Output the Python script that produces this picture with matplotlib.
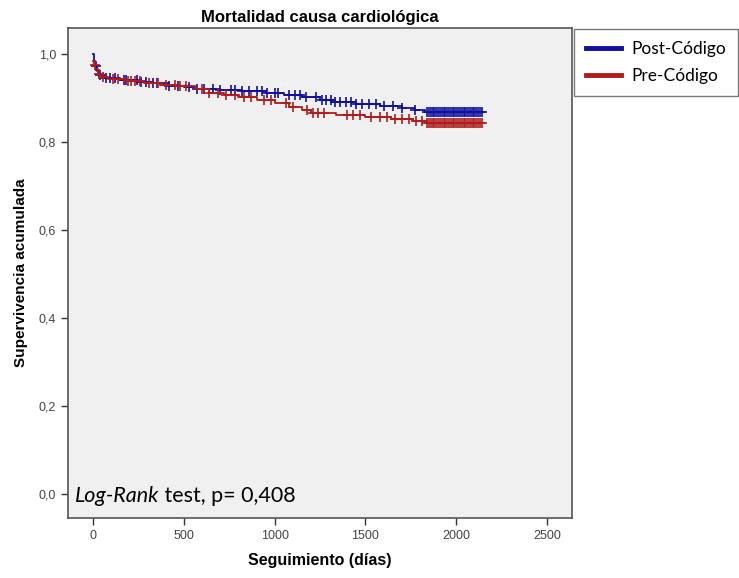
import matplotlib
matplotlib.use("Agg")
import matplotlib.pyplot as plt
import numpy as np

# Kaplan-Meier step values
post_t = [0, 5, 10, 20, 35, 60, 150, 250, 330, 420, 500, 560, 700, 820, 950,
          1050, 1150, 1250, 1320, 1450, 1580, 1700, 1770, 1830, 2140]
post_s = [1.0, 0.985, 0.972, 0.962, 0.953, 0.946, 0.941, 0.937, 0.933, 0.928,
          0.924, 0.920, 0.918, 0.915, 0.911, 0.907, 0.903, 0.896, 0.891, 0.886,
          0.882, 0.877, 0.873, 0.868, 0.868]

pre_t = [0, 5, 12, 25, 45, 80, 180, 280, 370, 470, 560, 640, 720, 800, 900,
         1000, 1080, 1150, 1200, 1340, 1500, 1640, 1760, 1840, 2140]
pre_s = [0.985, 0.975, 0.965, 0.955, 0.948, 0.943, 0.938, 0.933, 0.930, 0.926,
         0.920, 0.912, 0.906, 0.902, 0.896, 0.889, 0.880, 0.872, 0.866, 0.861,
         0.857, 0.851, 0.847, 0.843, 0.843]

band = [1840, 1850, 1860, 1870, 1880, 1890, 1900, 1910, 1920, 1930, 1940,
        1950, 1960, 1970, 1980, 1990, 2000, 2010, 2020, 2030, 2040, 2050,
        2060, 2070, 2080, 2090, 2100, 2110, 2120, 2130, 2140]

post_cens = [15, 40, 70, 95, 120, 170, 180, 240, 265, 290, 330, 350, 420, 470,
             530, 570, 610, 660, 700, 760, 780, 820, 860, 900, 930, 960, 1000,
             1020, 1080, 1110, 1140, 1170, 1230, 1260, 1280, 1310, 1330, 1360,
             1390, 1420, 1450, 1480, 1520, 1560, 1600, 1650, 1700, 1770] + band
pre_cens = [10, 30, 55, 110, 140, 190, 210, 230, 260, 310, 360, 400, 450, 480,
            510, 600, 640, 690, 730, 780, 830, 870, 940, 980, 1060, 1100, 1180,
            1210, 1240, 1270, 1400, 1430, 1470, 1530, 1580, 1620, 1660, 1700,
            1740, 1780, 1810] + band

labels = ["Post-Código", "Pre-Código"]
colors = ["#1010a0", "#b01c1c"]


def step_at(t, s, x):
    idx = np.searchsorted(t, x, side="right") - 1
    return np.asarray(s)[idx]


fig = plt.figure(figsize=(7.39, 5.78), dpi=100)
ax = fig.add_axes([0.092, 0.1038, 0.682, 0.8478])
ax.set_facecolor("#f0f0f0")

for t, s, c, col in [(post_t, post_s, post_cens, colors[0]),
                     (pre_t, pre_s, pre_cens, colors[1])]:
    ax.step(t, s, where="post", color=col, lw=1.3)
    ax.plot(c, step_at(t, s, c), ls="none", marker="+", ms=7, mew=1.2,
            color=col)

ax.set_xlim(-138, 2637)
ax.set_ylim(-0.055, 1.059)
ax.set_xticks([0, 500, 1000, 1500, 2000, 2500])
ax.set_yticks([0.0, 0.2, 0.4, 0.6, 0.8, 1.0])
ax.set_yticklabels(["0,0", "0,2", "0,4", "0,6", "0,8", "1,0"])
ax.tick_params(direction="out", length=5, width=1, labelsize=9,
               labelcolor="#444444", color="#333333")
for lab in ax.get_xticklabels() + ax.get_yticklabels():
    lab.set_family("Liberation Sans")
for sp in ax.spines.values():
    sp.set_color("#555555")
    sp.set_linewidth(1.2)

ax.set_title("Mortalidad causa cardiológica", fontsize=12, fontweight="bold",
             family="Liberation Sans", pad=4)
ax.set_xlabel("Seguimiento (días)", fontsize=11.5, fontweight="bold",
              family="Liberation Sans", labelpad=8)
ax.set_ylabel("Supervivencia acumulada", fontsize=11, fontweight="bold",
              family="Liberation Sans", labelpad=8)

t1 = ax.text(0.013, 0.045, "Log-Rank", transform=ax.transAxes, fontsize=15.5,
             style="italic", family="Lato", va="center")
ax.annotate(" test, p= 0,408", xy=(1, 0.5), xycoords=t1, fontsize=15.5,
            family="Lato", va="center", ha="left")

leg_handles = [plt.Line2D([], [], color=col, lw=3.5) for col in colors]
fig.legend(leg_handles, labels, loc="upper left",
           bbox_to_anchor=(0.777, 0.95), borderaxespad=0,
           prop={"family": "Lato", "size": 12.5}, frameon=True, fancybox=False,
           edgecolor="#555555", handlelength=2.0, borderpad=0.7,
           labelspacing=0.62, handletextpad=0.6)

fig.savefig("out.png", dpi=100)
